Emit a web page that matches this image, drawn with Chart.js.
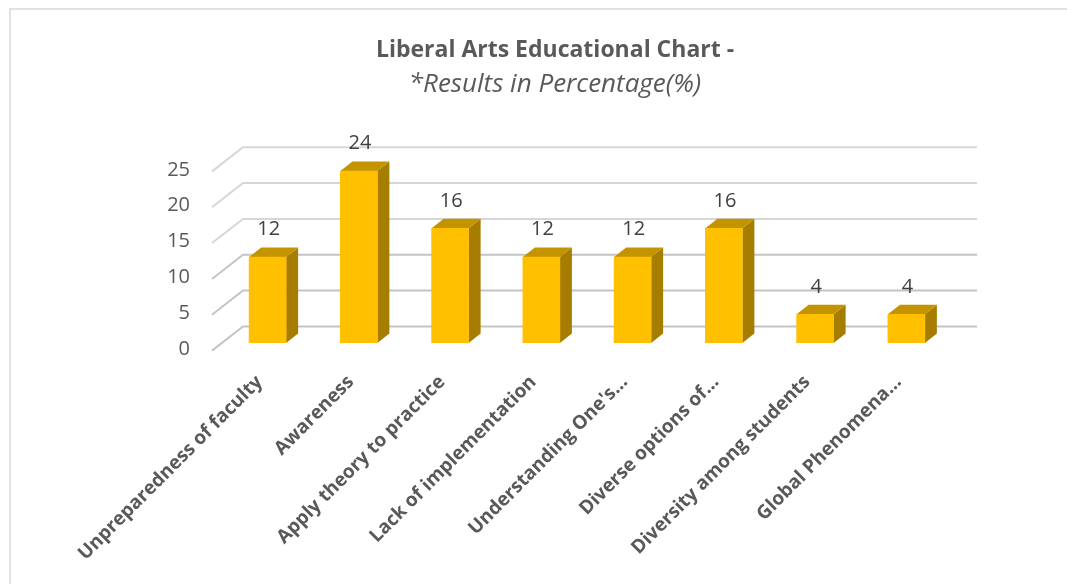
<!DOCTYPE html>
<html>
<head>
<meta charset="utf-8">
<script src="https://cdn.jsdelivr.net/npm/chart.js@4/dist/chart.umd.min.js"></script>
<style>
  html, body { margin: 0; padding: 0; background: #fff; }
  #wrap { position: relative; width: 1067px; height: 584px; overflow: hidden; }
  #frame { position: absolute; left: 9px; top: 8px; width: 1100px; height: 600px; border-left: 2px solid #e2e2e2; border-top: 2px solid #e2e2e2; box-sizing: border-box; }
</style>
</head>
<body>
<div id="wrap">
  <canvas id="chart" width="1067" height="584"></canvas>
  <div id="frame"></div>
</div>
<script>
const categories = ["Unpreparedness of faculty", "Awareness", "Apply theory to practice", "Lack of implementation",
  "Understanding One's…", "Diverse options of…", "Diversity among students", "Global Phenomena…"]
const percentages = [12, 24, 16, 12, 12, 16, 4, 4]
const yTicks = [0, 5, 10, 15, 20, 25]

const textColor = "#595959"
const fontName = "Open Sans"

// fake 3d, offsets are relative to the scale pixels
const barDepth = { x: 12, y: 9.5 }
const wall = { frontX: 212, frontY: 7.6, backX: 243, backY: -16.6, right: 977 }

const fake3d = {
  id: "fake3d",
  beforeDatasetsDraw(chart) {
    const ctx = chart.ctx
    const y = chart.scales.y
    ctx.save()

    //Gridlines on the floor and back wall
    ctx.lineWidth = 2
    yTicks.forEach(tick => {
      const py = y.getPixelForValue(tick)
      ctx.strokeStyle = tick < 15 ? "#c4c4c4" : "#d6d6d6"
      ctx.beginPath()
      ctx.moveTo(wall.frontX, py + wall.frontY)
      ctx.lineTo(wall.backX, py + wall.backY)
      ctx.lineTo(wall.right, py + wall.backY)
      ctx.stroke()
    })

    //Top and side of every bar
    chart.getDatasetMeta(0).data.forEach(bar => {
      const left = bar.x - bar.width / 2
      const right = bar.x + bar.width / 2

      ctx.fillStyle = "#a67d00"
      ctx.beginPath()
      ctx.moveTo(right, bar.base)
      ctx.lineTo(right + barDepth.x, bar.base - barDepth.y)
      ctx.lineTo(right + barDepth.x, bar.y - barDepth.y)
      ctx.lineTo(right, bar.y)
      ctx.closePath()
      ctx.fill()

      ctx.fillStyle = "#c49400"
      ctx.beginPath()
      ctx.moveTo(left, bar.y)
      ctx.lineTo(left + barDepth.x, bar.y - barDepth.y)
      ctx.lineTo(right + barDepth.x, bar.y - barDepth.y)
      ctx.lineTo(right, bar.y)
      ctx.closePath()
      ctx.fill()
    })
    ctx.restore()
  },
  afterDatasetsDraw(chart) {
    const ctx = chart.ctx
    ctx.save()
    ctx.fillStyle = "#404040"
    ctx.font = "20px '" + fontName + "'"
    ctx.textAlign = "center"
    ctx.textBaseline = "middle"
    chart.getDatasetMeta(0).data.forEach((bar, i) => {
      ctx.fillText(percentages[i], bar.x + 1, bar.y - 27.5)
    })
    ctx.restore()
  }
}

new Chart(document.getElementById("chart"), {
  type: "bar",
  data: {
    labels: categories,
    datasets: [{
      data: percentages,
      backgroundColor: "#ffc000",
      barThickness: 37
    }]
  },
  options: {
    responsive: false,
    animation: false,
    layout: { padding: { left: 158, right: 115, top: 31, bottom: 0 } },
    plugins: {
      legend: { display: false },
      tooltip: { enabled: false },
      title: {
        display: true,
        text: "Liberal Arts Educational Chart -",
        color: textColor,
        font: { family: fontName, size: 23, weight: "bold" },
        padding: { top: 6, bottom: 4 }
      },
      subtitle: {
        display: true,
        text: "*Results in Percentage(%)",
        color: textColor,
        font: { family: fontName, size: 26, style: "italic" },
        padding: { top: 0, bottom: 64 }
      }
    },
    scales: {
      x: {
        grid: { display: false, drawTicks: false },
        border: { display: false },
        afterFit: scale => { scale.height = 241 },
        ticks: {
          autoSkip: false,
          maxRotation: 45,
          minRotation: 45,
          padding: 28,
          labelOffset: -8,
          color: textColor,
          font: { family: fontName, size: 19, weight: "bold" }
        }
      },
      y: {
        min: 0,
        max: 25,
        grid: { display: false, drawTicks: false },
        border: { display: false },
        afterFit: scale => { scale.width = 64 },
        afterBuildTicks: scale => { scale.ticks = yTicks.map(value => ({ value })) },
        ticks: {
          padding: 32,
          labelOffset: 6,
          color: textColor,
          font: { family: fontName, size: 20 }
        }
      }
    }
  },
  plugins: [fake3d]
})
</script>
</body>
</html>
